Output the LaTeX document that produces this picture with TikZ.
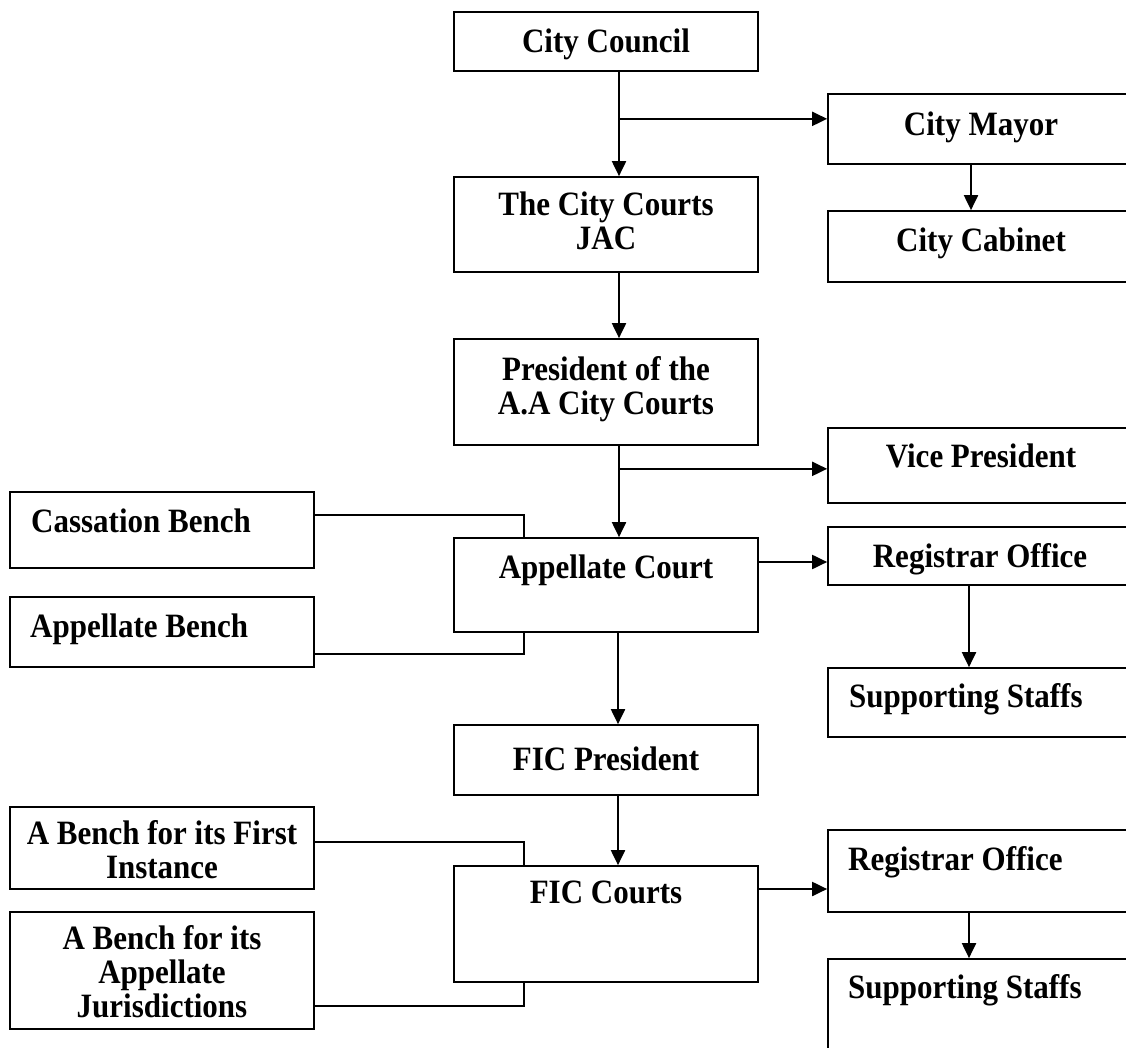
\documentclass[tikz,border=0pt]{standalone}
\usepackage{fontspec}
\setmainfont{Liberation Serif}
\usetikzlibrary{arrows.meta}
\begin{document}
\begin{tikzpicture}[x=1pt,y=-1pt,
  box/.style={draw=black,line width=1.7pt,inner sep=0pt,minimum width=304pt},
  rbox/.style={box,minimum width=306pt},
  txt/.style={font=\fontsize{31}{31}\selectfont\bfseries,inner sep=0pt,align=center,yscale=1.1,transform shape},
  conn/.style={line width=2pt},
  arr/.style={conn,-{Triangle[length=15pt,width=14pt]}}]
\useasboundingbox (0,0) rectangle (1126,1048);
\clip (0,0) rectangle (1126,1048);
\fill[white] (0,0) rectangle (1126,1048);
% centre column
\node[box,minimum height=59pt]  (council) at (606,41.5) {};
\node[box,minimum height=95pt]  (courts)  at (606,224.5) {};
\node[box,minimum height=106pt] (pres)    at (606,392) {};
\node[box,minimum height=94pt]  (appc)    at (606,585) {};
\node[box,minimum height=70pt]  (ficp)    at (606,760) {};
\node[box,minimum height=116pt] (ficc)    at (606,924) {};
% right column
\node[rbox,minimum height=70pt]  (mayor)   at (981,129) {};
\node[rbox,minimum height=71pt]  (cabinet) at (981,246.5) {};
\node[rbox,minimum height=75pt]  (vp)      at (981,465.5) {};
\node[rbox,minimum height=58pt]  (reg1)    at (981,556) {};
\node[rbox,minimum height=69pt]  (ss1)     at (981,702.5) {};
\node[rbox,minimum height=82pt]  (reg2)    at (981,871) {};
\node[rbox,minimum height=130pt] (ss2)     at (981,1024) {};
% left column
\node[box,minimum height=76pt]  (cass) at (162,530) {};
\node[box,minimum height=70pt]  (appb) at (162,632) {};
\node[box,minimum height=82pt]  (bfirst) at (162,848) {};
\node[box,minimum height=117pt] (bapp) at (162,970.5) {};
% texts
\node[txt] (t-council) at (606,45.2) {\strut City Council};
\node[txt] (t-courts) at (606,225.7) {\strut The City Courts\\\strut JAC};
\node[txt] (t-pres) at (606,390.7) {\strut President of the\\\strut A.A City Courts};
\node[txt] (t-appc) at (606,571.2) {\strut Appellate Court};
\node[txt] (t-ficp) at (606,763.2) {\strut FIC President};
\node[txt] (t-ficc) at (606,896.2) {\strut FIC Courts};
\node[txt] (t-mayor) at (981,128.2) {\strut City Mayor};
\node[txt] (t-cabinet) at (981,244.2) {\strut City Cabinet};
\node[txt] (t-vp) at (981,460.2) {\strut Vice President};
\node[txt] (t-reg1) at (980,560.2) {\strut Registrar Office};
\node[txt,anchor=west] (t-ss1) at (849,700.2) {\strut Supporting Staffs};
\node[txt,anchor=west] (t-reg2) at (848,863.2) {\strut Registrar Office};
\node[txt,anchor=west] (t-ss2) at (848,991.2) {\strut Supporting Staffs};
\node[txt,anchor=west] (t-cass) at (31,525.2) {\strut Cassation Bench};
\node[txt,anchor=west] (t-appb) at (30,630.2) {\strut Appellate Bench};
\node[txt] (t-bfirst) at (162,854.7) {\strut A Bench for its First\\\strut Instance};
\node[txt] (t-bapp) at (162,976.7) {\strut A Bench for its\\\strut Appellate\\\strut Jurisdictions};
% connectors
\draw[arr] ([xshift=13pt]council.south) -- ([xshift=13pt]courts.north);
\draw[arr] ([xshift=13pt]council.south) ++(0,47) coordinate (br1) -- (br1 -| mayor.west);
\draw[arr] ([xshift=-10pt]mayor.south) -- ([xshift=-10pt]cabinet.north);
\draw[arr] ([xshift=13pt]courts.south) -- ([xshift=13pt]pres.north);
\draw[arr] ([xshift=13pt]pres.south) -- ([xshift=13pt]appc.north);
\draw[arr] ([xshift=13pt]pres.south) ++(0,23) coordinate (br2) -- (br2 -| vp.west);
\draw[arr] ([yshift=23pt]appc.east) -- ([yshift=23pt]appc.east -| reg1.west);
\draw[arr] ([xshift=-12pt]reg1.south) -- ([xshift=-12pt]ss1.north);
\draw[arr] ([xshift=12pt]appc.south) -- ([xshift=12pt]ficp.north);
\draw[arr] ([xshift=12pt]ficp.south) -- ([xshift=12pt]ficc.north);
\draw[arr] ([yshift=35pt]ficc.east) -- ([yshift=35pt]ficc.east -| reg2.west);
\draw[arr] ([xshift=-12pt]reg2.south) -- ([xshift=-12pt]ss2.north);
\draw[conn] ([yshift=15pt]cass.east) -| ([xshift=-82pt]appc.north);
\draw[conn] ([xshift=-82pt]appc.south) |- ([yshift=-22pt]appb.east);
\draw[conn] ([yshift=6pt]bfirst.east) -| ([xshift=-82pt]ficc.north);
\draw[conn] ([xshift=-82pt]ficc.south) |- ([yshift=-35.5pt]bapp.east);
\end{tikzpicture}
\end{document}
